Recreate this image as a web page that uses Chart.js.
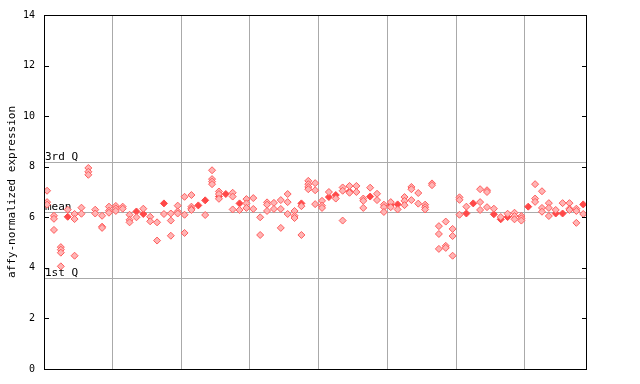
<!DOCTYPE html>
<html>
<head>
<meta charset="utf-8">
<script src="https://cdn.jsdelivr.net/npm/chart.js@4"></script>
<style>
body{margin:0;background:#fff}
</style>
</head>
<body>
<canvas id="cv" width="640" height="384"></canvas>
<script>
// open diamonds, one list per sample column
let sampleVals = [
  [7.05,6.6,6.5],[6.06,5.94,5.5],[4.82,4.72,4.6,4.06],[6.3],[6.13,5.93,4.48],
  [6.38,6.14],[7.95,7.8,7.68],[6.3,6.15],[6.06,5.63,5.58],[6.42,6.26,6.18],
  [6.45,6.35,6.25],[6.42,6.34],[6.1,5.9,5.8],[6.0],[6.34],
  [6.02,5.84],[5.8,5.08],[6.13],[6.15,5.87,5.27],[6.46,6.23,6.15],
  [6.81,6.1,5.38],[6.88,6.42,6.34,6.29],[],[6.09],[7.86,7.51,7.41,7.31],
  [7.02,6.92,6.73],[],[6.97,6.82,6.31],[6.29],[6.72,6.55,6.37],
  [6.76,6.33],[6.0,5.3],[6.59,6.5,6.25],[6.57,6.33],[6.68,6.33,5.58],
  [6.92,6.6,6.13],[6.25,6.06,5.97],[6.44,5.3],[7.44,7.31,7.2,7.11],[7.35,7.07,6.52],
  [6.65,6.46,6.37],[7.0],[6.74],[7.18,7.05,5.87],[7.24,6.97],
  [7.24,7.0],[6.74,6.65,6.37],[7.17],[6.93,6.68],[6.5,6.4,6.21],
  [6.6,6.4],[6.31],[6.8,6.65,6.48],[7.2,7.11,6.68],[6.96,6.54],
  [6.5,6.4,6.31],[7.34,7.27],[5.65,5.34,4.75],[5.83,4.87,4.79],[5.54,5.26,4.48],
  [6.79,6.69,6.1],[6.42],[],[7.11,6.6,6.29],[7.07,7.0,6.4],
  [6.34],[6.01],[6.14],[6.18,6.05,5.92],[6.05,5.96,5.87],
  [],[7.31,6.74,6.61],[7.03,6.37,6.22],[6.56,6.37,6.05],[6.29],
  [6.56],[6.56,6.34,6.29],[6.34,6.25,5.78],[6.13]
];
// filled diamonds
let selVals = [
  null,null,null,6.02,null,null,null,null,null,null,
  null,null,null,6.23,6.13,null,null,6.55,null,null,
  null,null,6.47,6.67,null,6.82,6.92,null,6.55,null,
  null,null,null,null,null,null,null,6.55,null,null,
  null,6.8,6.88,null,7.02,null,null,6.82,null,null,
  6.5,6.51,null,null,null,null,null,null,null,null,
  null,6.15,6.55,null,null,6.12,5.92,6.01,null,null,
  6.42,null,null,null,6.15,6.15,null,null,6.51
];
let groupEdges = [9.5,19.5,29.5,39.5,49.5,59.5,69.5];
let refLabels = ['3rd Q','mean','1st Q'];
let refValues = [8.2,6.22,3.61];
let yTicks = [0,2,4,6,8,10,12,14];

let openPts = [];
sampleVals.forEach((arr,i)=>arr.forEach(v=>openPts.push({x:i,y:v})));
let fillPts = [];
selVals.forEach((v,i)=>{ if(v!==null) fillPts.push({x:i,y:v}); });

const mono = "'DejaVu Sans Mono', monospace";

const deco = {
  id:'deco',
  beforeDatasetsDraw(chart){
    const c = chart.ctx, a = chart.chartArea, y = chart.scales.y;
    c.save();
    c.strokeStyle = '#aaaaaa'; c.lineWidth = 1;
    c.fillStyle = '#000'; c.font = '11px ' + mono;
    c.textBaseline = 'bottom'; c.textAlign = 'left';
    refValues.forEach((v,i)=>{
      const py = Math.round(y.getPixelForValue(v)) + 0.5;
      c.beginPath(); c.moveTo(a.left, py); c.lineTo(a.right, py); c.stroke();
      c.fillText(refLabels[i], a.left + 1, py + 0.5);
    });
    c.restore();
  },
  afterDraw(chart){
    const c = chart.ctx, a = chart.chartArea, y = chart.scales.y;
    c.save();
    c.strokeStyle = '#000'; c.lineWidth = 1;
    c.strokeRect(a.left + 0.5, a.top + 0.5, a.right - a.left - 1, a.bottom - a.top);
    yTicks.forEach(v=>{
      const py = Math.round(y.getPixelForValue(v)) + 0.5;
      c.beginPath();
      c.moveTo(a.left, py); c.lineTo(a.left + 5, py);
      c.moveTo(a.right - 5, py); c.lineTo(a.right, py);
      c.stroke();
    });
    c.translate(12, (a.top + a.bottom) / 2);
    c.rotate(-Math.PI / 2);
    c.fillStyle = '#000'; c.font = '11px ' + mono;
    c.textAlign = 'center'; c.textBaseline = 'middle';
    c.fillText('affy-normalized expression', 0, 0);
    c.restore();
  }
};

const ctx = document.getElementById('cv').getContext('2d');
const chart = new Chart(ctx, {
  type: 'scatter',
  data: {
    datasets: [
      {
        data: openPts,
        pointStyle: 'rectRot',
        pointRadius: 3.5,
        borderWidth: 1,
        borderColor: '#ff5c5c',
        backgroundColor: '#ffb4b4'
      },
      {
        data: fillPts,
        pointStyle: 'rectRot',
        pointRadius: 3.5,
        borderWidth: 1,
        borderColor: '#ff4848',
        backgroundColor: '#ff4848'
      }
    ]
  },
  options: {
    responsive: false,
    animation: false,
    layout: { padding: { top: 13, right: 53, bottom: 15, left: 0 } },
    scales: {
      x: {
        type: 'linear',
        min: -0.45,
        max: 78.55,
        afterBuildTicks: s => { s.ticks = groupEdges.map(v => ({value: v})); },
        afterFit: s => { s.height = 0; },
        ticks: { display: false },
        grid: { color: '#aaaaaa', drawTicks: false },
        border: { display: false }
      },
      y: {
        min: 0,
        max: 14,
        afterBuildTicks: s => { s.ticks = yTicks.map(v => ({value: v})); },
        afterFit: s => { s.width = 44; },
        ticks: { color: '#000', padding: 9, font: { family: mono, size: 10 } },
        grid: { display: false, drawTicks: false },
        border: { display: false }
      }
    },
    plugins: { legend: { display: false }, tooltip: { enabled: false } }
  },
  plugins: [deco]
});
</script>
</body>
</html>
